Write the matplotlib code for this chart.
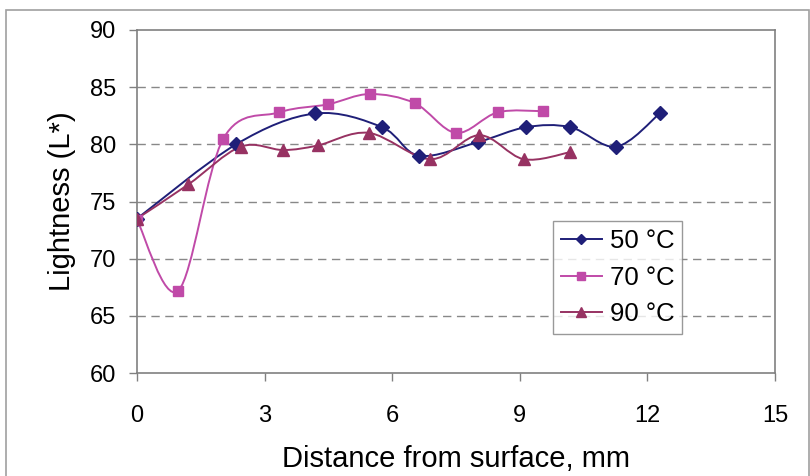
import numpy as np
import matplotlib
matplotlib.use("Agg")
from matplotlib import pyplot as plt
from matplotlib.path import Path
from matplotlib.patches import PathPatch, Rectangle
from matplotlib.lines import Line2D

plt.rcParams['font.family'] = ['Liberation Sans', 'DejaVu Sans']

# values
x50 = [0, 2.33, 4.19, 5.76, 6.64, 8.02, 9.15, 10.19, 11.27, 12.29]
y50 = [73.5, 80.0, 82.7, 81.5, 79.0, 80.2, 81.5, 81.5, 79.8, 82.7]

x70 = [0, 0.97, 2.03, 3.35, 4.49, 5.47, 6.53, 7.5, 8.48, 9.55]
y70 = [73.4, 67.2, 80.5, 82.8, 83.5, 84.4, 83.6, 81.0, 82.8, 82.9]

x90 = [0, 1.21, 2.44, 3.44, 4.25, 5.45, 6.9, 8.05, 9.09, 10.17]
y90 = [73.5, 76.5, 79.8, 79.5, 79.9, 81.0, 78.7, 80.8, 78.7, 79.3]

labels = ['50 °C', '70 °C', '90 °C']
colors = ['#1f1f78', '#c04aa8', '#973262']
markers = ['D', 's', '^']
msizes = [7, 7.5, 9]


def smooth_path(xs, ys):
    # Excel-like smoothed line: cubic Bezier through points (Catmull-Rom)
    p = np.column_stack([xs, ys]).astype(float)
    n = len(p)
    verts = [p[0]]
    codes = [Path.MOVETO]
    for i in range(n - 1):
        p0 = p[i - 1] if i > 0 else p[i]
        p3 = p[i + 2] if i + 2 < n else p[i + 1]
        c1 = p[i] + (p[i + 1] - p0) / 6.0
        c2 = p[i + 1] - (p3 - p[i]) / 6.0
        verts += [c1, c2, p[i + 1]]
        codes += [Path.CURVE4] * 3
    return Path(verts, codes)


fig = plt.figure(figsize=(8.1, 4.76), dpi=100)
ax = fig.add_axes([137 / 810, 103 / 476, 638 / 810, 343 / 476])

handles = []
for xs, ys, c, m, ms, lab in zip([x50, x70, x90], [y50, y70, y90],
                                 colors, markers, msizes, labels):
    ax.add_patch(PathPatch(smooth_path(xs, ys), fill=False, edgecolor=c,
                           lw=1.4, zorder=3))
    ax.plot(xs, ys, ls='none', marker=m, ms=ms, color=c, zorder=4)
    handles.append(Line2D([], [], color=c, lw=1.4, marker=m, ms=ms * 0.8,
                          label=lab))

ax.set_xlim(0, 15)
ax.set_ylim(60, 90)
ax.set_xticks(range(0, 16, 3))
ax.set_yticks(range(60, 91, 5))
for v in range(65, 90, 5):
    ax.axhline(v, color='#888888', lw=1.0, ls=(0, (6, 4)), zorder=1)

for s in ax.spines.values():
    s.set_color('#808080')
    s.set_linewidth(1.2)
ax.tick_params(axis='both', colors='#808080', labelcolor='black',
               labelsize=17, length=6, width=1)
ax.tick_params(axis='x', pad=17)
ax.tick_params(axis='y', pad=9)

ax.set_xlabel('Distance from surface, mm', fontsize=21, labelpad=13)
ax.set_ylabel('Lightness (L*)', fontsize=21, labelpad=10)

leg = ax.legend(handles=handles, loc='upper left',
                bbox_to_anchor=(0.652, 0.443), fontsize=18.5,
                frameon=True, fancybox=False, handlelength=1.6,
                handletextpad=0.3, labelspacing=0.5, borderpad=0.3,
                borderaxespad=0)
leg.get_frame().set_edgecolor('#808080')
leg.get_frame().set_linewidth(1.0)

# outer chart border
fig.patches.append(Rectangle((6 / 810, -0.05), 803 / 810, 1.05 - 10 / 476,
                             transform=fig.transFigure, fill=False,
                             edgecolor='#a0a0a0', lw=1.2))

fig.savefig('out.png', dpi=100)
